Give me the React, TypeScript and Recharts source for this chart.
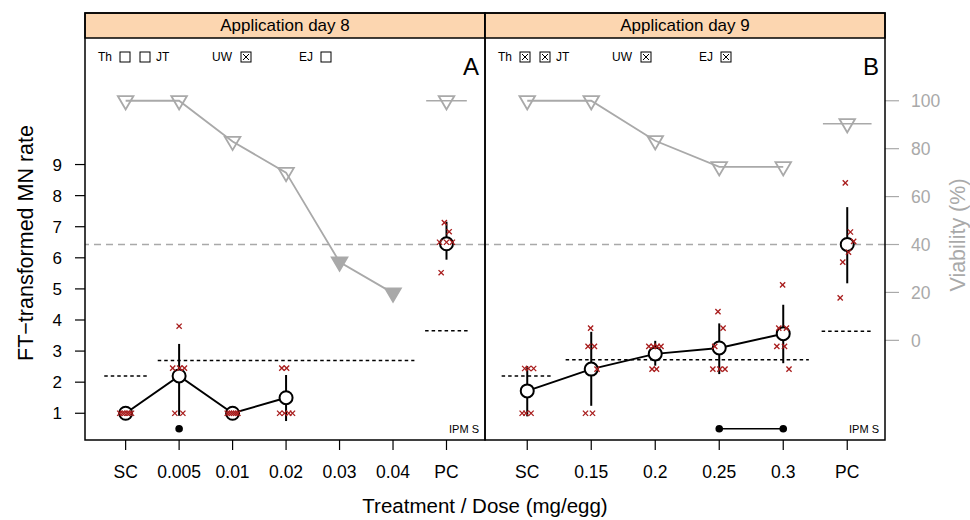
import React from "react";
import {
  ComposedChart,
  Line,
  Scatter,
  XAxis,
  YAxis,
  ErrorBar,
  ReferenceLine,
} from "recharts";

const FONT = "'Liberation Sans', Arial, Helvetica, sans-serif";
const GREY = "#a9a9a9";
const RED = "#a81c1c";
const STRIP = "#fcd6b0";

// left axis (FT-transformed MN rate) and right axis (viability %) ranges
const MN_DOMAIN: [number, number] = [0.14, 13.07];
const VIA_DOMAIN: [number, number] = [-41.6, 126.2];
const MN_TICKS = [1, 2, 3, 4, 5, 6, 7, 8, 9];
const VIA_TICKS = [0, 20, 40, 60, 80, 100];
const VIA_CUT = 40;
const SIG_LEVEL = 0.5;

// ---- Application day 8 (panel A) ----
const catsA = ["SC", "0.005", "0.01", "0.02", "0.03", "0.04", "PC"];
const meanA = [1.0, 2.2, 1.0, 1.5, null, null, 6.45];
const lowA = [1.0, 0.92, 1.0, 0.75, null, null, 5.94];
const highA = [1.0, 3.23, 1.0, 2.23, null, null, 7.16];
const viabA = [100, 100, 83, 70, 32.7, 19.7, 100];
const toxicA = [false, false, false, false, true, true, false];
// single eggs: [category position incl. jitter, value]
const repsA: [number, number][] = [
  [0.89, 1], [0.94, 1], [0.98, 1], [1.03, 1], [1.07, 1], [1.11, 1],
  [1.88, 2.45], [2.01, 2.45], [2.1, 2.45], [1.92, 1], [2.07, 1], [2.0, 3.8],
  [2.9, 1], [2.94, 1], [2.98, 1], [3.02, 1], [3.06, 1], [3.1, 1],
  [3.92, 2.45], [4.01, 2.45], [3.88, 1], [3.97, 1], [4.05, 1], [4.12, 1],
  [6.96, 7.13], [7.05, 6.84], [6.87, 6.5], [7.0, 6.5], [7.11, 6.5], [6.9, 5.52],
];
const sigA = [2];
const ctrlA = [2.2, 2.7, 3.65]; // SC, dose range, PC
const legendA = [false, false, true, false]; // Th, JT, UW, EJ

// ---- Application day 9 (panel B) ----
const catsB = ["SC", "0.15", "0.2", "0.25", "0.3", "PC"];
const meanB = [1.72, 2.42, 2.91, 3.1, 3.56, 6.43];
const lowB = [0.9, 1.24, 2.53, 2.26, 2.61, 5.18];
const highB = [2.52, 3.62, 3.33, 3.89, 4.49, 7.63];
const viabB = [100, 100, 83.3, 72.4, 72.4, 90.4];
const toxicB = [false, false, false, false, false, false];
const repsB: [number, number][] = [
  [0.96, 2.44], [1.02, 2.44], [1.1, 2.44], [0.92, 1], [0.98, 1], [1.06, 1],
  [1.99, 3.74], [1.95, 3.15], [2.05, 3.15], [2.09, 2.42], [1.91, 1], [2.02, 1],
  [2.9, 3.15], [2.97, 3.15], [3.03, 3.15], [3.09, 3.15], [2.95, 2.42], [3.02, 2.42],
  [3.98, 4.27], [4.06, 3.74], [3.93, 3.15], [3.9, 2.42], [4.01, 2.42], [4.09, 2.42],
  [4.99, 5.13], [4.93, 3.74], [5.05, 3.74], [4.9, 3.15], [5.02, 3.15], [5.09, 2.42],
  [5.97, 8.41], [6.05, 6.83], [6.1, 6.53], [6.02, 6.18], [5.93, 5.86], [5.89, 4.71],
];
const sigB = [4, 5];
const ctrlB = [2.2, 2.72, 3.64];
const legendB = [true, true, true, true];

const MeanDot = (p: any) =>
  p.cx == null ? null : (
    <circle cx={p.cx} cy={p.cy} r={6.5} fill="#fff" stroke="#000" strokeWidth={2} />
  );

const Cross = (p: any) => {
  const s = 2.6;
  return (
    <g>
      <line x1={p.cx - s} y1={p.cy - s} x2={p.cx + s} y2={p.cy + s} stroke={RED} strokeWidth={1.3} />
      <line x1={p.cx - s} y1={p.cy + s} x2={p.cx + s} y2={p.cy - s} stroke={RED} strokeWidth={1.3} />
    </g>
  );
};

const Tri = (p: any) => {
  if (p.cx == null) return null;
  const filled = p.payload && p.payload.filled;
  const d = `M${p.cx - 7.8},${p.cy - 4.7} L${p.cx + 7.8},${p.cy - 4.7} L${p.cx},${p.cy + 8.6} Z`;
  return <path d={d} fill={filled ? GREY : "none"} stroke={GREY} strokeWidth={1.8} />;
};

const SigDot = (p: any) => <circle cx={p.cx} cy={p.cy} r={3.8} fill="#000" />;

const XTick = (p: any) => (
  <g>
    <line x1={p.x} x2={p.x} y1={p.y} y2={p.y + 10} stroke="#000" strokeWidth={1.2} />
    <text x={p.x} y={p.y + 38} textAnchor="middle" fontSize={17.5} fontFamily={FONT} fill="#000">
      {p.labels[p.payload.value - 1]}
    </text>
  </g>
);

type PanelProps = {
  cats: string[];
  mean: (number | null)[];
  low: (number | null)[];
  high: (number | null)[];
  viab: number[];
  toxic: boolean[];
  reps: [number, number][];
  sig: number[];
  ctrl: number[];
  xDomain: [number, number];
  left: boolean;
};

function Panel(p: PanelProps) {
  const n = p.cats.length;
  const meanLine: any[] = [];
  p.mean.slice(0, n - 1).forEach((m, i) => {
    if (m == null) return;
    meanLine.push({ x: i + 1, y: m, err: [m - (p.low[i] as number), (p.high[i] as number) - m] });
  });
  const pm = p.mean[n - 1] as number;
  const pcMean = [{ x: n, y: pm, err: [pm - (p.low[n - 1] as number), (p.high[n - 1] as number) - pm] }];
  const viabLine = p.viab.slice(0, n - 1).map((v, i) => ({ x: i + 1, v, filled: p.toxic[i] }));
  const viabPc = [{ x: n, v: p.viab[n - 1], filled: p.toxic[n - 1] }];
  const repData = p.reps.map(([x, y]) => ({ x, y }));
  const sigData = p.sig.map((x) => ({ x, y: SIG_LEVEL }));
  const groups: [number, number][] = [[1, 1], [2, n - 1], [n, n]];

  return (
    <ComposedChart
      width={485}
      height={520}
      margin={p.left ? { top: 38, right: 0, bottom: 40, left: 25 } : { top: 38, right: 25, bottom: 40, left: 0 }}
    >
      <XAxis
        type="number"
        dataKey="x"
        domain={p.xDomain}
        allowDataOverflow
        ticks={p.cats.map((_, i) => i + 1)}
        interval={0}
        tickLine={false}
        axisLine={false}
        tickSize={0}
        tickMargin={0}
        height={40}
        tick={(t: any) => <XTick {...t} labels={p.cats} />}
      />
      <YAxis
        yAxisId="mn"
        type="number"
        domain={MN_DOMAIN}
        allowDataOverflow
        hide={!p.left}
        ticks={MN_TICKS}
        interval={0}
        width={60}
        axisLine={false}
        tickLine={{ stroke: "#000", strokeWidth: 1.2 }}
        tickSize={10}
        tickMargin={13}
        tick={{ fontSize: 17, fill: "#000", fontFamily: FONT }}
      />
      <YAxis
        yAxisId="via"
        orientation="right"
        type="number"
        domain={VIA_DOMAIN}
        allowDataOverflow
        hide={p.left}
        ticks={VIA_TICKS}
        interval={0}
        width={60}
        axisLine={false}
        tickLine={{ stroke: GREY, strokeWidth: 1.2 }}
        tickSize={14}
        tickMargin={12}
        tick={{ fontSize: 17.5, fill: GREY, fontFamily: FONT }}
      />

      <ReferenceLine yAxisId="via" y={VIA_CUT} stroke={GREY} strokeDasharray="7 5" strokeWidth={1.6} />
      {groups.map(([a, b], i) => (
        <ReferenceLine
          key={"c" + i}
          yAxisId="mn"
          segment={[{ x: a - 0.4, y: p.ctrl[i] }, { x: b + 0.4, y: p.ctrl[i] }]}
          stroke="#000"
          strokeDasharray="3.5 3"
          strokeWidth={1.5}
        />
      ))}
      <ReferenceLine
        yAxisId="via"
        segment={[{ x: n - 0.38, y: p.viab[n - 1] }, { x: n + 0.38, y: p.viab[n - 1] }]}
        stroke={GREY}
        strokeWidth={1.6}
      />

      <Line
        yAxisId="via"
        data={viabLine}
        dataKey="v"
        stroke={GREY}
        strokeWidth={1.8}
        dot={(d: any) => <Tri key={"t" + d.index} {...d} />}
        activeDot={false}
        isAnimationActive={false}
      />
      <Scatter yAxisId="via" data={viabPc} dataKey="v" shape={Tri} isAnimationActive={false} />

      <Line
        yAxisId="mn"
        data={meanLine}
        dataKey="y"
        stroke="#000"
        strokeWidth={2}
        dot={(d: any) => <MeanDot key={"m" + d.index} {...d} />}
        activeDot={false}
        isAnimationActive={false}
      >
        <ErrorBar dataKey="err" width={0} stroke="#000" strokeWidth={2} direction="y" />
      </Line>
      <Scatter yAxisId="mn" data={pcMean} dataKey="y" shape={MeanDot} isAnimationActive={false}>
        <ErrorBar dataKey="err" width={0} stroke="#000" strokeWidth={2} direction="y" />
      </Scatter>

      <Scatter yAxisId="mn" data={repData} dataKey="y" shape={Cross} isAnimationActive={false} />
      <Scatter
        yAxisId="mn"
        data={sigData}
        dataKey="y"
        shape={SigDot}
        line={sigData.length > 1 ? { stroke: "#000", strokeWidth: 1.5 } : false}
        isAnimationActive={false}
      />
    </ComposedChart>
  );
}

const LegendBox = ({ cx, checked }: { cx: number; checked: boolean }) => (
  <g>
    <rect x={cx - 5} y={52} width={10} height={10} fill="#fff" stroke="#000" strokeWidth={1} />
    {checked && (
      <g stroke="#000" strokeWidth={1}>
        <line x1={cx - 3} y1={54} x2={cx + 3} y2={60} />
        <line x1={cx - 3} y1={60} x2={cx + 3} y2={54} />
      </g>
    )}
  </g>
);

const PanelDecor = ({ x0, title, letter, legend }: { x0: number; title: string; letter: string; legend: boolean[] }) => (
  <g fontFamily={FONT}>
    <rect x={x0} y={13} width={400} height={25} fill={STRIP} stroke="#000" strokeWidth={1.5} />
    <text x={x0 + 200} y={31} textAnchor="middle" fontSize={17}>{title}</text>
    <rect x={x0} y={13} width={400} height={427} fill="none" stroke="#000" strokeWidth={1.5} />
    <text x={x0 + 13} y={61} fontSize={12}>Th</text>
    <LegendBox cx={x0 + 40} checked={legend[0]} />
    <LegendBox cx={x0 + 60} checked={legend[1]} />
    <text x={x0 + 71} y={61} fontSize={12}>JT</text>
    <text x={x0 + 127} y={61} fontSize={12}>UW</text>
    <LegendBox cx={x0 + 161} checked={legend[2]} />
    <text x={x0 + 214} y={61} fontSize={12}>EJ</text>
    <LegendBox cx={x0 + 241} checked={legend[3]} />
    <text x={x0 + 394} y={75} textAnchor="end" fontSize={24}>{letter}</text>
    <text x={x0 + 394} y={433} textAnchor="end" fontSize={11}>IPM S</text>
  </g>
);

export default function App() {
  return (
    <div style={{ position: "relative", width: 970, height: 520, background: "#fff" }}>
      <style>{`body{margin:0}`}</style>
      <div style={{ position: "absolute", left: 0, top: 0 }}>
        <Panel
          cats={catsA}
          mean={meanA}
          low={lowA}
          high={highA}
          viab={viabA}
          toxic={toxicA}
          reps={repsA}
          sig={sigA}
          ctrl={ctrlA}
          xDomain={[0.24, 7.72]}
          left
        />
      </div>
      <div style={{ position: "absolute", left: 485, top: 0 }}>
        <Panel
          cats={catsB}
          mean={meanB}
          low={lowB}
          high={highB}
          viab={viabB}
          toxic={toxicB}
          reps={repsB}
          sig={sigB}
          ctrl={ctrlB}
          xDomain={[0.34, 6.59]}
          left={false}
        />
      </div>
      <svg
        width={970}
        height={520}
        style={{ position: "absolute", left: 0, top: 0, pointerEvents: "none" }}
      >
        <PanelDecor x0={85} title="Application day 8" letter="A" legend={legendA} />
        <PanelDecor x0={485} title="Application day 9" letter="B" legend={legendB} />
        <text x={485} y={513} textAnchor="middle" fontSize={20.5} fontFamily={FONT}>
          Treatment / Dose (mg/egg)
        </text>
        <text
          x={33}
          y={243}
          textAnchor="middle"
          fontSize={21.5}
          fontFamily={FONT}
          transform="rotate(-90 33 243)"
        >
          FT−transformed MN rate
        </text>
        <text
          x={965}
          y={235}
          textAnchor="middle"
          fontSize={21.5}
          fill={GREY}
          fontFamily={FONT}
          transform="rotate(-90 965 235)"
        >
          Viability (%)
        </text>
      </svg>
    </div>
  );
}
